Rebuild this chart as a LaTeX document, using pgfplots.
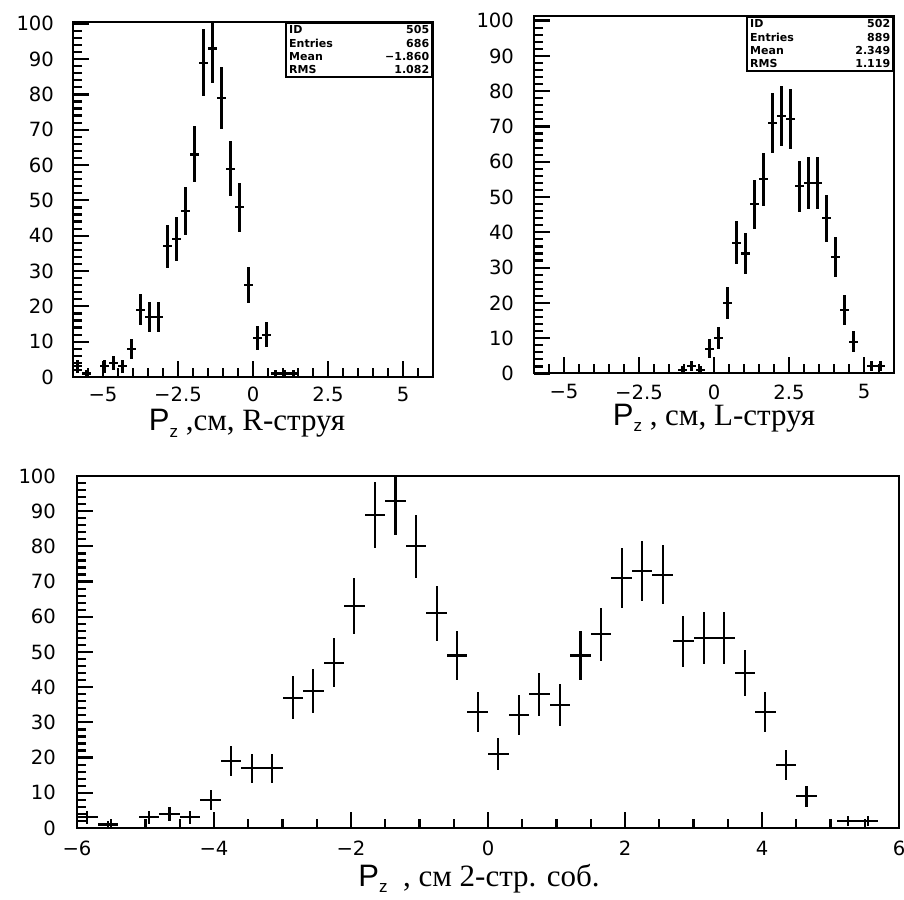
\documentclass[border=0pt]{standalone}
\usepackage{fontspec}
\setmainfont{Liberation Serif}
\setsansfont{Liberation Sans}
\newfontfamily\tickfont{DejaVu Sans}
\newfontfamily\boxfont{DejaVu Sans}
\usepackage{pgfplots}
\pgfplotsset{compat=1.18}
\usepackage{pgfplotstable}

\pgfplotstableread{
x y ex e
-5.85 3 0.15 1.732
-5.55 1 0.15 1
-4.95 3 0.15 1.732
-4.65 4 0.15 2
-4.35 3 0.15 1.732
-4.05 8 0.15 2.828
-3.75 19 0.15 4.359
-3.45 17 0.15 4.123
-3.15 17 0.15 4.123
-2.85 37 0.15 6.083
-2.55 39 0.15 6.245
-2.25 47 0.15 6.856
-1.95 63 0.15 7.937
-1.65 89 0.15 9.434
-1.35 93 0.15 9.644
-1.05 79 0.15 8.888
-0.75 59 0.15 7.681
-0.45 48 0.15 6.928
-0.15 26 0.15 5.099
0.15 11 0.15 3.317
0.45 12 0.15 3.464
0.75 1 0.15 1
1.05 1 0.15 1
1.35 1 0.15 1
}\dataR

\pgfplotstableread{
x y ex e
-1.05 1 0.15 1
-0.75 2 0.15 1.414
-0.45 1 0.15 1
-0.15 7 0.15 2.646
0.15 10 0.15 3.162
0.45 20 0.15 4.472
0.75 37 0.15 6.083
1.05 34 0.15 5.831
1.35 48 0.15 6.928
1.65 55 0.15 7.416
1.95 71 0.15 8.426
2.25 73 0.15 8.544
2.55 72 0.15 8.485
2.85 53 0.15 7.280
3.15 54 0.15 7.348
3.45 54 0.15 7.348
3.75 44 0.15 6.633
4.05 33 0.15 5.745
4.35 18 0.15 4.243
4.65 9 0.15 3
5.25 2 0.15 1.414
5.55 2 0.15 1.414
}\dataL

\pgfplotstableread{
x y ex e
-5.85 3 0.15 1.732
-5.55 1 0.15 1
-4.95 3 0.15 1.732
-4.65 4 0.15 2
-4.35 3 0.15 1.732
-4.05 8 0.15 2.828
-3.75 19 0.15 4.359
-3.45 17 0.15 4.123
-3.15 17 0.15 4.123
-2.85 37 0.15 6.083
-2.55 39 0.15 6.245
-2.25 47 0.15 6.856
-1.95 63 0.15 7.937
-1.65 89 0.15 9.434
-1.35 93 0.15 9.644
-1.05 80 0.15 8.944
-0.75 61 0.15 7.810
-0.45 49 0.15 7
-0.15 33 0.15 5.745
0.15 21 0.15 4.583
0.45 32 0.15 5.657
0.75 38 0.15 6.164
1.05 35 0.15 5.916
1.35 49 0.15 7
1.65 55 0.15 7.416
1.95 71 0.15 8.426
2.25 73 0.15 8.544
2.55 72 0.15 8.485
2.85 53 0.15 7.280
3.15 54 0.15 7.348
3.45 54 0.15 7.348
3.75 44 0.15 6.633
4.05 33 0.15 5.745
4.35 18 0.15 4.243
4.65 9 0.15 3
5.25 2 0.15 1.414
5.55 2 0.15 1.414
}\dataB

\newcommand\Pz{\textsf{P}\raisebox{-0.45ex}{\sffamily\fontsize{8.5}{8.5}\selectfont z}}
\newcommand\statbox[4]{\parbox{70pt}{\boxfont\bfseries\fontsize{5.5}{6.6}\selectfont
ID\hfill #1\par Entries\hfill #2\par Mean\hfill #3\par RMS\hfill #4}}

\pgfplotsset{
 myhist/.style={
  scale only axis,
  axis line style={line width=1pt},
  xtick pos=left, ytick pos=left, tick align=inside,
  major tick length=8pt, minor tick length=4.5pt,
  every tick/.style={black, line width=1.1pt},
  ymin=0, xmin=-6, xmax=6,
  ytick={0,10,20,30,40,50,60,70,80,90,100},
  minor ytick={2,4,6,8,12,14,16,18,22,24,26,28,32,34,36,38,42,44,46,48,52,54,56,58,62,64,66,68,72,74,76,78,82,84,86,88,92,94,96,98},
  yticklabels={0,10,20,30,40,50,60,70,80,90,100},
  tick label style={font=\tickfont\fontsize{9.8}{11}\selectfont},
  xlabel style={at={(axis description cs:0.5,0)}, anchor=base, font=\fontsize{15.5}{17}\selectfont},
 },
 errpts/.style={mark=none, draw=none, forget plot,
  error bars/.cd, x dir=both, x explicit, y dir=both, y explicit,
  error mark=none, error bar style={draw=black, line width=1.05pt}},
}

\begin{document}
\begin{tikzpicture}
% top left: R
\begin{axis}[myhist, at={(36.5pt,261pt)}, anchor=south west,
  width=180pt, height=177.5pt, ymax=100.5,
  xtick={-5,-2.5,0,2.5,5}, xticklabels={−5,−2.5,0,2.5,5},
  minor xtick={-6,-5.5,-4.5,-4,-3.5,-3,-2,-1.5,-1,-0.5,0.5,1,1.5,2,3,3.5,4,4.5,5.5},
  yticklabel style={xshift=-6pt}, xticklabel style={yshift=-1.5pt},
  xlabel={\Pz\ ,см,\ R-струя}, xlabel style={yshift=-27pt, xshift=-3pt}]
\addplot[errpts] table[x=x, y=y, x error=ex, y error=e] {\dataR};
\node[draw, line width=0.8pt, anchor=north east, inner sep=1.5pt, fill=white] at (rel axis cs:1,1) {\statbox{505}{686}{−1.860}{1.082}};
\end{axis}
% top right: L
\begin{axis}[myhist, at={(267pt,262.75pt)}, anchor=south west,
  width=180pt, height=178.75pt, ymax=101.3,
  xtick={-5,-2.5,0,2.5,5}, xticklabels={−5,−2.5,0,2.5,5},
  minor xtick={-6,-5.5,-4.5,-4,-3.5,-3,-2,-1.5,-1,-0.5,0.5,1,1.5,2,3,3.5,4,4.5,5.5},
  yticklabel style={xshift=-6.5pt}, xticklabel style={yshift=-2pt},
  xlabel={\Pz\ , см,\ L-струя}, xlabel style={yshift=-26pt}]
\addplot[errpts] table[x=x, y=y, x error=ex, y error=e] {\dataL};
\node[draw, line width=0.8pt, anchor=north east, inner sep=1.5pt, fill=white] at (rel axis cs:1,1) {\statbox{502}{889}{2.349}{1.119}};
\end{axis}
% bottom: combined
\begin{axis}[myhist, at={(38.5pt,35.5pt)}, anchor=south west,
  width=411pt, height=176pt, ymax=100,
  xtick={-6,-4,-2,0,2,4,6}, xticklabels={−6,−4,−2,0,2,4,6},
  minor xtick={-5.5,-5,-4.5,-3.5,-3,-2.5,-1.5,-1,-0.5,0.5,1,1.5,2.5,3,3.5,4.5,5,5.5},
  yticklabel style={xshift=-7pt}, xticklabel style={yshift=-3pt},
  xlabel={\Pz\ \ , см 2-стр. соб.}, xlabel style={yshift=-29pt, xshift=-4.5pt}]
\addplot[errpts] table[x=x, y=y, x error=ex, y error=e] {\dataB};
\end{axis}
\pgfresetboundingbox
\path[use as bounding box] (0,0) rectangle (452pt,449.5pt);
\end{tikzpicture}
\end{document}
